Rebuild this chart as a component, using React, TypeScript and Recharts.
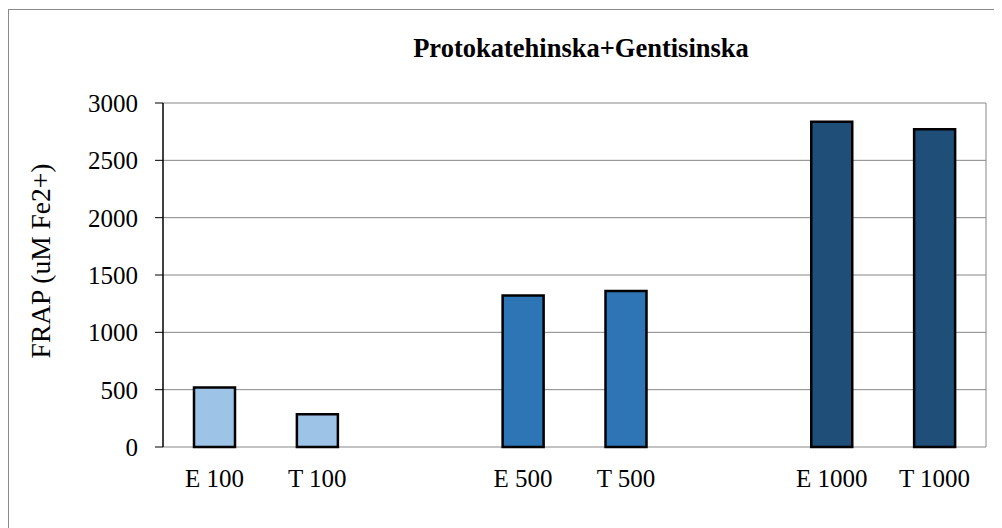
import { BarChart, Bar, XAxis, YAxis, CartesianGrid, Cell } from 'recharts'

// slots 3 and 6 are empty spacers between the groups
const categories = ['E 100', 'T 100', '', 'E 500', 'T 500', ' ', 'E 1000', 'T 1000']
const frapValues = [518, 285, null, 1322, 1360, null, 2836, 2770]
const barColors = ['#9DC3E6', '#9DC3E6', '#fff', '#2E75B6', '#2E75B6', '#fff', '#1F4E79', '#1F4E79']
const yTicks = [0, 500, 1000, 1500, 2000, 2500, 3000]

const data = categories.map((name, i) => ({ name, frap: frapValues[i] }))
const edgeTicks = [...categories.map((_, i) => i), categories.length]

const serif = "'Liberation Serif', 'Times New Roman', Times, serif"

export default function App() {
  return (
    <div style={{ position: 'relative', width: 994, height: 520 }}>
      <div
        style={{
          position: 'absolute',
          left: 0,
          top: 1,
          width: 994,
          height: 519,
          borderTop: '1px solid #8a8a8a',
          borderLeft: '1px solid #8a8a8a',
          boxSizing: 'border-box',
        }}
      />
      <div
        style={{
          position: 'absolute',
          left: 573,
          top: 28,
          transform: 'translateX(-50%)',
          fontFamily: serif,
          fontSize: 26.5,
          fontWeight: 'bold',
          whiteSpace: 'nowrap',
          lineHeight: '24px',
          color: '#000',
        }}
      >
        Protokatehinska+Gentisinska
      </div>
      <div
        style={{
          position: 'absolute',
          left: 33,
          top: 253,
          transform: 'translate(-50%, -50%) rotate(-90deg)',
          fontFamily: serif,
          fontSize: 27.5,
          whiteSpace: 'nowrap',
          lineHeight: '26px',
          color: '#000',
        }}
      >
        FRAP (uM Fe2+)
      </div>
      <BarChart
        width={994}
        height={520}
        data={data}
        margin={{ top: 95, right: 16, bottom: 21, left: 0 }}
        style={{ position: 'absolute', left: 0, top: 0 }}
      >
        <CartesianGrid
          stroke="#868686"
          strokeWidth={1}
          verticalCoordinatesGenerator={({ offset }) => [offset.left + offset.width]}
        />
        <XAxis
          xAxisId="edges"
          type="number"
          domain={[0, categories.length]}
          ticks={edgeTicks}
          tick={false}
          tickSize={7}
          height={0}
          axisLine={{ stroke: '#000', strokeWidth: 1.5 }}
          tickLine={{ stroke: '#000' }}
        />
        <XAxis
          dataKey="name"
          height={60}
          tickSize={0}
          tickMargin={22}
          axisLine={false}
          tickLine={false}
          interval={0}
          tick={{ fill: '#000', fontSize: 25, fontFamily: serif }}
        />
        <YAxis
          width={155}
          domain={[0, 3000]}
          ticks={yTicks}
          tickSize={8}
          tickMargin={17}
          axisLine={{ stroke: '#000', strokeWidth: 1.5 }}
          tickLine={{ stroke: '#000' }}
          tick={{ fill: '#000', fontSize: 25, fontFamily: serif }}
        />
        <Bar dataKey="frap" barSize={41} stroke="#000" strokeWidth={2.5} isAnimationActive={false}>
          {data.map((d, i) => (
            <Cell key={i} fill={barColors[i]} />
          ))}
        </Bar>
      </BarChart>
    </div>
  )
}
